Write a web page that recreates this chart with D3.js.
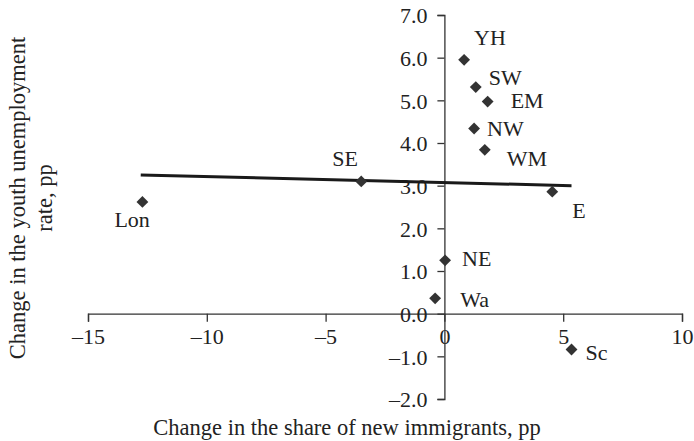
<!DOCTYPE html>
<html>
<head>
<meta charset="utf-8">
<title>Youth unemployment vs new immigrants</title>
<script src="https://cdn.jsdelivr.net/npm/d3@7"></script>
<style>
  body { margin: 0; background: #fff; }
  svg text { font-family: "Liberation Serif", "Times New Roman", serif; fill: #222; }
</style>
</head>
<body>
<div id="chart"></div>
<script>
// regions
var regions = ["YH", "SW", "EM", "NW", "WM", "SE", "E", "Lon", "NE", "Wa", "Sc"];
var immigrantShare = [0.83, 1.32, 1.82, 1.25, 1.70, -3.5, 4.54, -12.71, 0.03, -0.39, 5.35];
var youthUnemp = [5.95, 5.31, 4.97, 4.34, 3.84, 3.10, 2.86, 2.62, 1.25, 0.36, -0.84];
// label offsets in px (dx, dy of baseline)
var labelDx = [10, 13, 23, 13, 22, -29, 20, -28, 17, 25, 14];
var labelDy = [-15, -2, 6, 8, 16, -15, 26, 25, 6, 9, 10];

// trend line end points
var trendX = [-12.78, 5.35];
var trendY = [3.25, 3.0];

var xTicks = [-15, -10, -5, 0, 5, 10];
var yTicks = [-2, -1, 0, 1, 2, 3, 4, 5, 6, 7];

var width = 694, height = 441;

var svg = d3.select("#chart").append("svg")
    .attr("width", width)
    .attr("height", height);

var x = d3.scaleLinear().domain([-15, 10]).range([88, 682]);
var y = d3.scaleLinear().domain([-2, 7]).range([399, 15]);

var fs = 22;

// x axis
var gx = svg.append("g")
    .attr("transform", "translate(0," + y(0) + ")")
    .call(d3.axisBottom(x).tickValues(xTicks).tickSize(8).tickSizeOuter(8)
        .tickFormat(function (d) { return d < 0 ? "\u2013" + Math.abs(d) : d; }));
gx.select(".domain").attr("stroke", "#333").attr("stroke-width", 1.3);
gx.selectAll(".tick line").attr("stroke", "#333").attr("stroke-width", 1.3);
gx.selectAll(".tick text").attr("y", 15).attr("dy", "0.71em")
    .style("font-size", fs + "px").style("font-family", null).attr("fill", "#222");

// y axis
var gy = svg.append("g")
    .attr("transform", "translate(" + x(0) + ",0)")
    .call(d3.axisLeft(y).tickValues(yTicks).tickSize(7).tickSizeOuter(7)
        .tickFormat(function (d) { return d < 0 ? "\u2013" + d3.format(".1f")(-d) : d3.format(".1f")(d); }));
gy.select(".domain").attr("stroke", "#333").attr("stroke-width", 1.3);
gy.selectAll(".tick line").attr("stroke", "#333").attr("stroke-width", 1.3);
gy.selectAll(".tick text").attr("x", -17).attr("dy", "0.36em")
    .style("font-size", fs + "px").style("font-family", null).attr("fill", "#222");

// trend line
svg.append("line")
    .attr("x1", x(trendX[0])).attr("y1", y(trendY[0]))
    .attr("x2", x(trendX[1])).attr("y2", y(trendY[1]))
    .attr("stroke", "#1a1a1a")
    .attr("stroke-width", 3);

// points
var sym = d3.symbol().type(d3.symbolSquare).size(70);
svg.append("g").selectAll("path")
    .data(regions)
    .enter()
    .append("path")
    .attr("d", sym)
    .attr("transform", function (d, i) {
        return "translate(" + x(immigrantShare[i]) + "," + y(youthUnemp[i]) + ") rotate(45)";
    })
    .attr("fill", "#333");

// point labels
svg.append("g").selectAll("text")
    .data(regions)
    .enter()
    .append("text")
    .attr("x", function (d, i) { return x(immigrantShare[i]) + labelDx[i]; })
    .attr("y", function (d, i) { return y(youthUnemp[i]) + labelDy[i]; })
    .style("font-size", fs + "px")
    .text(function (d) { return d; });

// axis titles
svg.append("text")
    .attr("text-anchor", "middle")
    .attr("x", 347)
    .attr("y", 435)
    .style("font-size", "22.5px")
    .text("Change in the share of new immigrants, pp");

svg.append("text")
    .attr("text-anchor", "middle")
    .attr("transform", "translate(25,198) rotate(-90)")
    .style("font-size", "22.5px")
    .text("Change in the youth unemployment");

svg.append("text")
    .attr("text-anchor", "middle")
    .attr("transform", "translate(52,198) rotate(-90)")
    .style("font-size", "22.5px")
    .text("rate, pp");
</script>
</body>
</html>
